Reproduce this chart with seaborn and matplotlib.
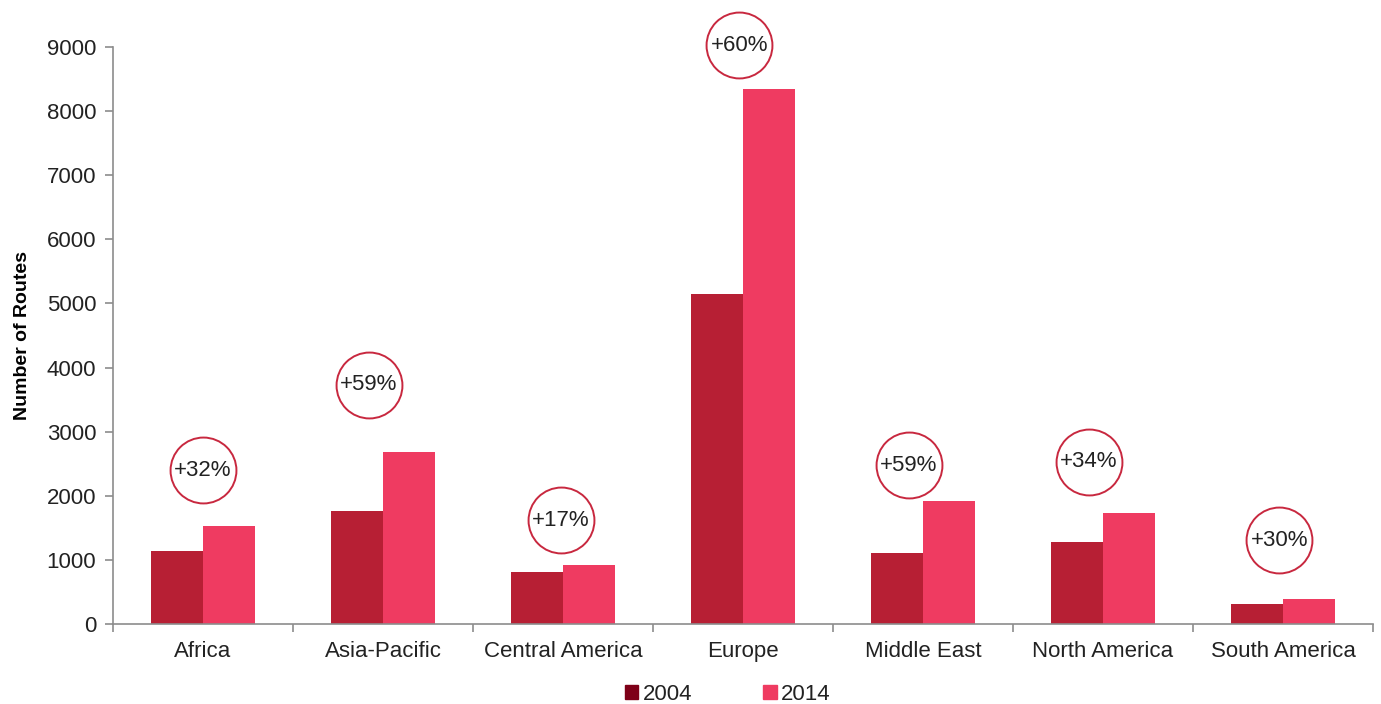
import numpy as np
import pandas as pd
import matplotlib; matplotlib.use("Agg")
import matplotlib.pyplot as plt
import matplotlib.patches as mpatches
import seaborn as sns

# ── DADOS ────────────────────────────────────────────────────────────────────
REGIONS = ["Africa", "Asia-Pacific", "Central America", "Europe",
           "Middle East", "North America", "South America"]
ROUTES_2004 = [1140, 1765, 810, 5150, 1110, 1280, 310]
ROUTES_2014 = [1530, 2685, 920, 8345, 1920, 1735, 390]
GROWTH = ["+32%", "+59%", "+17%", "+60%", "+59%", "+34%", "+30%"]
YEARS = ["2004", "2014"]

# posição dos círculos (offset x em categorias, altura em rotas)
CIRCLE_DX = [0.0, -0.08, -0.01, -0.02, -0.08, -0.08, -0.02]
CIRCLE_Y = [2400, 3730, 1620, 9030, 2480, 2530, 1310]

C2004 = "#B71F34"; C2014 = "#EF3B61"; C2004_LEG = "#7E0018"
RING = "#C8283F"; AXIS = "#8C8C8C"; TXT = "#222222"

sns.set_style("white")
plt.rcParams["font.family"] = ["Liberation Sans", "DejaVu Sans"]

df = pd.DataFrame({
    "region": REGIONS * 2,
    "routes": ROUTES_2004 + ROUTES_2014,
    "year": [YEARS[0]] * len(REGIONS) + [YEARS[1]] * len(REGIONS),
})

fig = plt.figure(figsize=(13.81, 7.04), dpi=100)
ax = fig.add_axes([0.0818, 0.1136, 0.9124, 0.8196])

sns.barplot(data=df, x="region", y="routes", hue="year", order=REGIONS,
            hue_order=YEARS, palette=[C2004, C2014], width=0.575,
            saturation=1, legend=False, ax=ax, errorbar=None, linewidth=0)

# círculos de crescimento
cx = [i + d for i, d in enumerate(CIRCLE_DX)]
ax.scatter(cx, CIRCLE_Y, s=2250, marker="o", facecolor="white",
           edgecolor=RING, linewidth=1.4, clip_on=False, zorder=5)
for x, y, g in zip(cx, CIRCLE_Y, GROWTH):
    ax.text(x, y, g, ha="center", va="center", fontsize=16, color=TXT,
            zorder=6, clip_on=False)

ax.set_xlim(-0.5, len(REGIONS) - 0.5)
ax.set_ylim(0, 9000)
ax.set_yticks(range(0, 9001, 1000))
ax.set_xlabel("")
ax.set_ylabel("Number of Routes", fontsize=14, fontweight="bold", color="black", labelpad=11)

for s in ["top", "right"]:
    ax.spines[s].set_visible(False)
for s in ["left", "bottom"]:
    ax.spines[s].set_color(AXIS)
    ax.spines[s].set_linewidth(1.2)

ax.tick_params(axis="y", which="major", direction="out", length=6, width=1.2,
               color=AXIS, labelsize=16, labelcolor=TXT, pad=6, left=True)
ax.tick_params(axis="x", which="major", length=0, labelsize=16, labelcolor=TXT, pad=12)
ax.set_xticks(np.arange(-0.5, len(REGIONS)), minor=True)
ax.tick_params(axis="x", which="minor", direction="out", length=6, width=1.2,
               color=AXIS, bottom=True)

fig.legend(handles=[mpatches.Patch(color=C2004_LEG, label="2004"),
                    mpatches.Patch(color=C2014, label="2014")],
           loc="lower center", bbox_to_anchor=(0.527, -0.03), ncol=2,
           frameon=False, fontsize=16, handlelength=0.6, handleheight=0.6,
           handletextpad=0.2, columnspacing=3.2, labelcolor=TXT)

plt.savefig("out.png", dpi=100)
plt.close()
